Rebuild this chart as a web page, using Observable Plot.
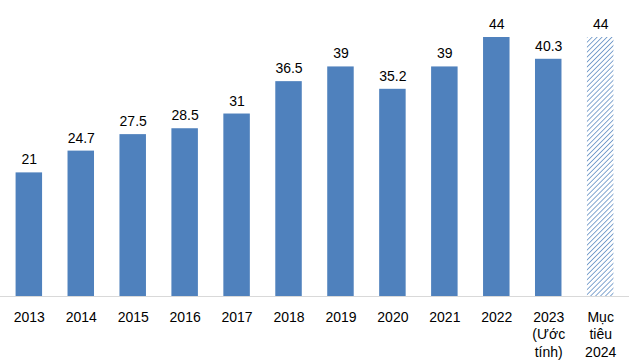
<!DOCTYPE html>
<html><head><meta charset="utf-8">
<script src="https://cdn.jsdelivr.net/npm/d3@7"></script>
<script src="https://cdn.jsdelivr.net/npm/@observablehq/plot@0.6"></script>
<style>body{margin:0;background:#fff;} svg{display:block;}</style>
</head><body><div id="chart"></div>
<script>
const categories = ["2013","2014","2015","2016","2017","2018","2019","2020","2021","2022","2023","2024"];
const tickLabels = ["2013","2014","2015","2016","2017","2018","2019","2020","2021","2022","2023\n(Ước\ntính)","Mục\ntiêu\n2024"];
const values = [21, 24.7, 27.5, 28.5, 31, 36.5, 39, 35.2, 39, 44, 40.3, 44];
const valueLabels = ["21","24.7","27.5","28.5","31","36.5","39","35.2","39","44","40.3","44"];
const isTarget = [false,false,false,false,false,false,false,false,false,false,false,true];

const data = categories.map((c,i)=>({cat:c, v:values[i], lab:valueLabels[i], target:isTarget[i]}));
const blue = "#4f81bd";

const chart = Plot.plot({
  width: 629, height: 361,
  marginLeft: 0, marginRight: 0, marginTop: 37, marginBottom: 65,
  style: {fontFamily: "'Liberation Sans', Arial, sans-serif", fontSize: "14px", color:"#000", background:"#fff"},
  x: {domain: categories, paddingInner: 0.49, paddingOuter: 0.3, round: false},
  y: {domain: [0, 44], axis: null},
  marks: [
    Plot.barY(data.filter(d=>!d.target), {x:"cat", y:"v", fill: blue}),
    Plot.barY(data.filter(d=>d.target), {x:"cat", y:"v", fill: "url(#hatch)"}),
    Plot.ruleY([0], {stroke:"#d9d9d9", strokeWidth:1}),
    Plot.text(data, {x:"cat", y:"v", text:"lab", dy:-13, fill:"#000", fontSize:14}),
    Plot.axisX({tickSize:0, tickPadding:13, tickFormat:(d)=>tickLabels[categories.indexOf(d)], lineHeight:1.25, fontSize:14, fill:"#000", label:null, textAnchor:"middle"})
  ]
});

const ns = "http://www.w3.org/2000/svg";
const defs = document.createElementNS(ns, "defs");
const pat = document.createElementNS(ns, "pattern");
pat.setAttribute("id","hatch");
pat.setAttribute("patternUnits","userSpaceOnUse");
pat.setAttribute("width","3.5");
pat.setAttribute("height","3.5");
pat.setAttribute("patternTransform","rotate(45)");
const bg = document.createElementNS(ns,"rect");
bg.setAttribute("width","3.5");bg.setAttribute("height","3.5");bg.setAttribute("fill","#fff");
const ln = document.createElementNS(ns,"line");
ln.setAttribute("x1","0");ln.setAttribute("y1","0");ln.setAttribute("x2","0");ln.setAttribute("y2","3.5");
ln.setAttribute("stroke",blue);ln.setAttribute("stroke-width","1.4");
pat.appendChild(bg);pat.appendChild(ln);defs.appendChild(pat);
chart.insertBefore(defs, chart.firstChild);
document.getElementById("chart").appendChild(chart);
</script></body></html>
